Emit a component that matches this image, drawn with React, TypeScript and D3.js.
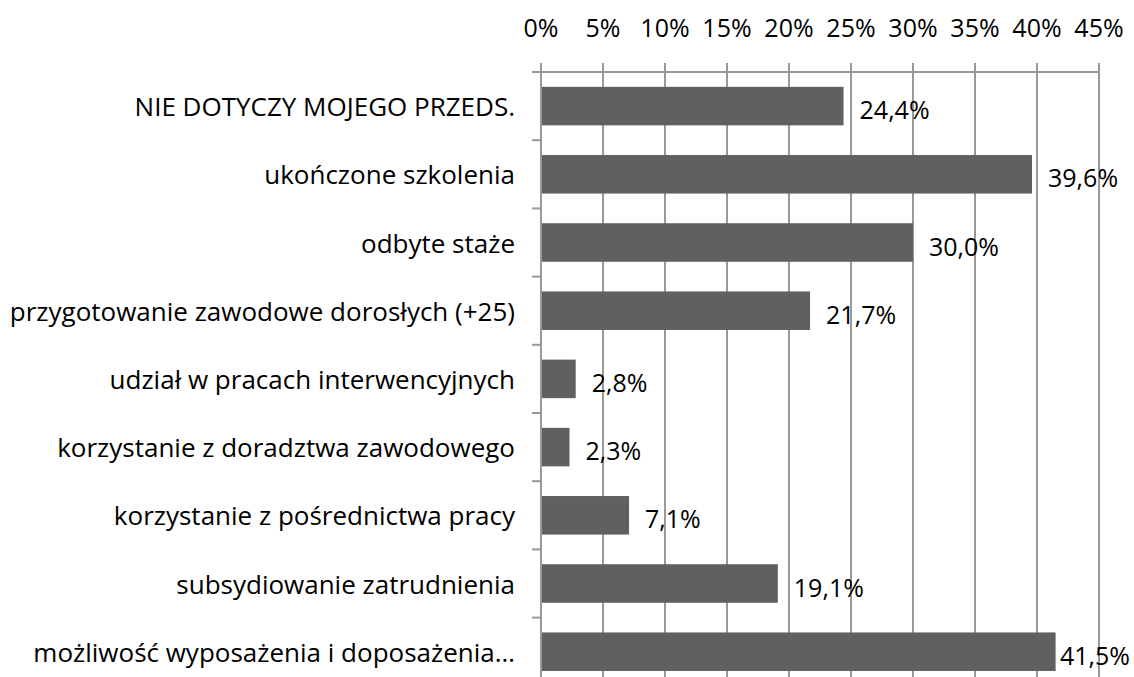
import React from "react";
import * as d3 from "d3";

const categories = [
  "NIE DOTYCZY MOJEGO PRZEDS.",
  "ukończone szkolenia",
  "odbyte staże",
  "przygotowanie zawodowe dorosłych (+25)",
  "udział w pracach interwencyjnych",
  "korzystanie z doradztwa zawodowego",
  "korzystanie z pośrednictwa pracy",
  "subsydiowanie zatrudnienia",
  "możliwość wyposażenia i doposażenia…",
];
const values = [24.4, 39.6, 30.0, 21.7, 2.8, 2.3, 7.1, 19.1, 41.5];
const tickValues = [0, 5, 10, 15, 20, 25, 30, 35, 40, 45];

const W = 1134;
const H = 677;
const left = 541;
const right = 1099;
const top = 72;
const band = 68.2;
const FONT = "'Open Sans', sans-serif";
const FS = 25;
const FS_CAT = 26;

export default function App() {
  const x = d3.scaleLinear().domain([0, 45]).range([left, right]);
  const y = d3
    .scaleBand<string>()
    .domain(categories)
    .range([top, top + band * categories.length])
    .paddingInner(0.435)
    .paddingOuter(0.2175);
  const fmt = (v: number) => v.toFixed(1).replace(".", ",") + "%";
  const bottom = top + band * categories.length;
  const boundaries = d3.range(categories.length + 1).map((i) => top + i * band);

  return (
    <svg
      width={W}
      height={H}
      style={{ position: "absolute", left: 0, top: 0, background: "#fff" }}
      fontFamily={FONT}
    >
      {tickValues.map((t) => (
        <line key={"g" + t} x1={x(t)} x2={x(t)} y1={top - 9} y2={bottom} stroke="#999" strokeWidth={2} />
      ))}
      <line x1={left - 9} x2={right} y1={top} y2={top} stroke="#999" strokeWidth={2} />
      {boundaries.map((b, i) => (
        <line key={"c" + i} x1={left - 9} x2={left} y1={b} y2={b} stroke="#999" strokeWidth={2} />
      ))}
      {tickValues.map((t) => (
        <text key={"t" + t} x={x(t)} y={27} textAnchor="middle" dominantBaseline="central" fontSize={FS} fill="#000">
          {t + "%"}
        </text>
      ))}
      {categories.map((c, i) => (
        <rect key={"b" + i} x={x(0) + 1} y={y(c)} width={x(values[i]) - x(0) - 1} height={y.bandwidth()} fill="#606060" />
      ))}
      {categories.map((c, i) => {
        const lx = Math.min(x(values[i]) + 16, 1060);
        return (
          <text key={"v" + i} x={lx} y={(y(c) as number) + y.bandwidth() / 2 + 3} dominantBaseline="central" fontSize={FS} fill="#000">
            {fmt(values[i])}
          </text>
        );
      })}
      {categories.map((c, i) => (
        <text key={"l" + i} x={515} y={(y(c) as number) + y.bandwidth() / 2} textAnchor="end" dominantBaseline="central" fontSize={FS_CAT} fill="#000">
          {c}
        </text>
      ))}
    </svg>
  );
}
